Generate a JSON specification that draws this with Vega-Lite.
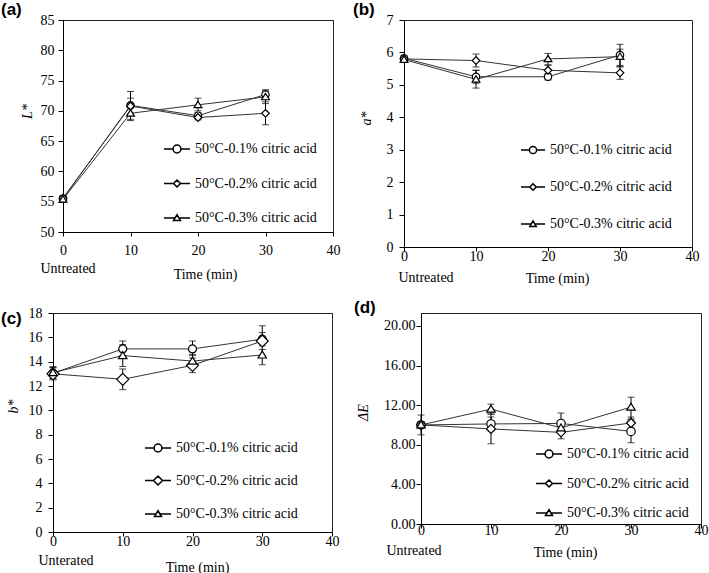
{
  "$schema": "https://vega.github.io/schema/vega-lite/v6.json",
  "background": "white",
  "padding": 0,
  "datasets": {
    "pts": [
      {"p": "a", "s": "50°C-0.1% citric acid", "t": 0, "v": 55.5, "lo": 55.0, "hi": 56.0},
      {"p": "a", "s": "50°C-0.1% citric acid", "t": 10, "v": 70.9, "lo": 68.6, "hi": 73.2},
      {"p": "a", "s": "50°C-0.1% citric acid", "t": 20, "v": 69.2, "lo": 68.7, "hi": 69.7},
      {"p": "a", "s": "50°C-0.1% citric acid", "t": 30, "v": 72.7, "lo": 71.9, "hi": 73.5},
      {"p": "a", "s": "50°C-0.2% citric acid", "t": 0, "v": 55.6, "lo": 55.2, "hi": 56.0},
      {"p": "a", "s": "50°C-0.2% citric acid", "t": 10, "v": 70.8, "lo": 69.5, "hi": 72.1},
      {"p": "a", "s": "50°C-0.2% citric acid", "t": 20, "v": 68.9, "lo": 68.5, "hi": 69.4},
      {"p": "a", "s": "50°C-0.2% citric acid", "t": 30, "v": 69.6, "lo": 67.7, "hi": 71.5},
      {"p": "a", "s": "50°C-0.3% citric acid", "t": 0, "v": 55.4, "lo": 55.0, "hi": 55.8},
      {"p": "a", "s": "50°C-0.3% citric acid", "t": 10, "v": 69.6, "lo": 68.4, "hi": 70.6},
      {"p": "a", "s": "50°C-0.3% citric acid", "t": 20, "v": 71.0, "lo": 70.0, "hi": 72.1},
      {"p": "a", "s": "50°C-0.3% citric acid", "t": 30, "v": 72.3, "lo": 71.2, "hi": 73.3},

      {"p": "b", "s": "50°C-0.1% citric acid", "t": 0, "v": 5.82, "lo": 5.75, "hi": 5.9},
      {"p": "b", "s": "50°C-0.1% citric acid", "t": 10, "v": 5.25, "lo": 5.05, "hi": 5.45},
      {"p": "b", "s": "50°C-0.1% citric acid", "t": 20, "v": 5.25, "lo": 5.15, "hi": 5.35},
      {"p": "b", "s": "50°C-0.1% citric acid", "t": 30, "v": 5.92, "lo": 5.6, "hi": 6.25},
      {"p": "b", "s": "50°C-0.2% citric acid", "t": 0, "v": 5.8, "lo": 5.73, "hi": 5.87},
      {"p": "b", "s": "50°C-0.2% citric acid", "t": 10, "v": 5.75, "lo": 5.55, "hi": 5.95},
      {"p": "b", "s": "50°C-0.2% citric acid", "t": 20, "v": 5.45, "lo": 5.3, "hi": 5.6},
      {"p": "b", "s": "50°C-0.2% citric acid", "t": 30, "v": 5.37, "lo": 5.17, "hi": 5.57},
      {"p": "b", "s": "50°C-0.3% citric acid", "t": 0, "v": 5.78, "lo": 5.7, "hi": 5.85},
      {"p": "b", "s": "50°C-0.3% citric acid", "t": 10, "v": 5.17, "lo": 4.9, "hi": 5.45},
      {"p": "b", "s": "50°C-0.3% citric acid", "t": 20, "v": 5.8, "lo": 5.62, "hi": 5.97},
      {"p": "b", "s": "50°C-0.3% citric acid", "t": 30, "v": 5.87, "lo": 5.55, "hi": 6.1},

      {"p": "c", "s": "50°C-0.1% citric acid", "t": 0, "v": 13.05, "lo": 12.6, "hi": 13.5},
      {"p": "c", "s": "50°C-0.1% citric acid", "t": 10, "v": 15.05, "lo": 14.5, "hi": 15.7},
      {"p": "c", "s": "50°C-0.1% citric acid", "t": 20, "v": 15.05, "lo": 14.5, "hi": 15.7},
      {"p": "c", "s": "50°C-0.1% citric acid", "t": 30, "v": 15.85, "lo": 15.3, "hi": 16.95},
      {"p": "c", "s": "50°C-0.2% citric acid", "t": 0, "v": 13.0, "lo": 12.5, "hi": 13.5},
      {"p": "c", "s": "50°C-0.2% citric acid", "t": 10, "v": 12.55, "lo": 11.7, "hi": 13.4},
      {"p": "c", "s": "50°C-0.2% citric acid", "t": 20, "v": 13.7, "lo": 13.1, "hi": 14.3},
      {"p": "c", "s": "50°C-0.2% citric acid", "t": 30, "v": 15.7, "lo": 14.5, "hi": 16.4},
      {"p": "c", "s": "50°C-0.3% citric acid", "t": 0, "v": 13.1, "lo": 12.6, "hi": 13.6},
      {"p": "c", "s": "50°C-0.3% citric acid", "t": 10, "v": 14.5, "lo": 13.6, "hi": 15.4},
      {"p": "c", "s": "50°C-0.3% citric acid", "t": 20, "v": 14.05, "lo": 13.5, "hi": 14.6},
      {"p": "c", "s": "50°C-0.3% citric acid", "t": 30, "v": 14.55, "lo": 13.75, "hi": 15.0},

      {"p": "d", "s": "50°C-0.1% citric acid", "t": 0, "v": 10.0, "lo": 9.0, "hi": 11.0},
      {"p": "d", "s": "50°C-0.1% citric acid", "t": 10, "v": 10.1, "lo": 9.4, "hi": 10.8},
      {"p": "d", "s": "50°C-0.1% citric acid", "t": 20, "v": 10.15, "lo": 9.3, "hi": 11.2},
      {"p": "d", "s": "50°C-0.1% citric acid", "t": 30, "v": 9.35, "lo": 8.2, "hi": 10.5},
      {"p": "d", "s": "50°C-0.2% citric acid", "t": 0, "v": 10.0, "lo": 9.7, "hi": 10.3},
      {"p": "d", "s": "50°C-0.2% citric acid", "t": 10, "v": 9.6, "lo": 8.1, "hi": 11.1},
      {"p": "d", "s": "50°C-0.2% citric acid", "t": 20, "v": 9.25, "lo": 8.6, "hi": 9.9},
      {"p": "d", "s": "50°C-0.2% citric acid", "t": 30, "v": 10.2, "lo": 9.4, "hi": 10.8},
      {"p": "d", "s": "50°C-0.3% citric acid", "t": 0, "v": 10.0, "lo": 9.7, "hi": 10.3},
      {"p": "d", "s": "50°C-0.3% citric acid", "t": 10, "v": 11.6, "lo": 11.1, "hi": 12.1},
      {"p": "d", "s": "50°C-0.3% citric acid", "t": 20, "v": 9.7, "lo": 9.2, "hi": 10.2},
      {"p": "d", "s": "50°C-0.3% citric acid", "t": 30, "v": 11.8, "lo": 10.6, "hi": 12.8}
    ]
  },
  "spacing": 12,
  "resolve": {"scale": {"shape": "independent"}, "legend": {"shape": "independent"}},
  "vconcat": [
    {
      "spacing": 0,
      "bounds": "flush",
      "align": "none",
      "resolve": {"scale": {"shape": "independent"}, "legend": {"shape": "independent"}},
      "hconcat": [
        {"width": 10, "height": 1, "data": {"values": []}, "mark": {"type": "point", "opacity": 0}, "view": {"stroke": null}},
        {
          "spacing": 71,
          "bounds": "flush",
          "align": "none",
          "resolve": {"scale": {"shape": "independent"}, "legend": {"shape": "independent"}},
          "hconcat": [
            {
              "width": 270, "height": 212,
              "title": {"text": "(a)", "anchor": "start", "frame": "group", "dx": -62, "dy": 6, "font": "Liberation Sans", "fontSize": 17, "fontWeight": "bold", "color": "black", "offset": 0},
              "data": {"name": "pts"},
              "transform": [{"filter": "datum.p === 'a'"}],
              "encoding": {
                "x": {"field": "t", "type": "quantitative", "scale": {"domain": [0, 40], "nice": false},
                      "axis": {"values": [0, 10, 20, 30, 40], "title": "Time (min)", "titleX": 142, "titleY": 42, "labelBaseline": "middle", "labelPadding": 14}},
                "y": {"field": "v", "type": "quantitative", "scale": {"domain": [50, 85], "nice": false, "zero": false},
                      "axis": {"values": [50, 55, 60, 65, 70, 75, 80, 85], "title": "L*", "titleX": -36, "titleY": 91, "titleFontStyle": "italic", "labelPadding": 4}}
              },
              "resolve": {"scale": {"shape": "independent"}, "legend": {"shape": "independent"}},
              "layer": [
                {"mark": {"type": "line", "color": "#333", "strokeWidth": 1}, "encoding": {"detail": {"field": "s"}}},
                {"mark": {"type": "errorbar", "ticks": {"size": 7}, "color": "black", "thickness": 1},
                 "encoding": {"y": {"field": "lo", "type": "quantitative"}, "y2": {"field": "hi"}}},
                {"mark": {"type": "point", "filled": true, "fill": "white", "stroke": "black", "strokeWidth": 1.2, "size": 100, "opacity": 1},
                 "encoding": {"shape": {"field": "s", "type": "nominal", "legend": null,
                   "scale": {"domain": ["50°C-0.1% citric acid", "50°C-0.2% citric acid", "50°C-0.3% citric acid"],
                             "range": ["M0.74,0A0.74,0.74,0,1,1,-0.74,0A0.74,0.74,0,1,1,0.74,0Z", "M0,-0.76L0.76,0L0,0.76L-0.76,0Z", "M0,-0.72L0.78,0.56L-0.78,0.56Z"]}}}},
                {"mark": {"type": "point", "filled": true, "fill": "white", "stroke": "black", "strokeWidth": 1, "opacity": 0},
                 "encoding": {"shape": {"field": "s", "type": "nominal",
                   "scale": {"domain": ["50°C-0.1% citric acid", "50°C-0.2% citric acid", "50°C-0.3% citric acid"],
                             "range": ["M-1,0H-0.3M0.3,0H1M0.3,0A0.3,0.3,0,1,1,-0.3,0A0.3,0.3,0,1,1,0.3,0Z", "M-1,0H-0.27M0.27,0H1M0,-0.27L0.27,0L0,0.27L-0.27,0Z", "M-1,0H-0.15M0.15,0H1M0,-0.25L0.27,0.2L-0.27,0.2Z"]},
                   "legend": {"orient": "none", "legendX": 100, "legendY": 115, "title": null, "padding": 0,
                              "labelFont": "Liberation Serif", "labelFontSize": 14, "labelColor": "black", "labelOffset": 4, "rowPadding": 13.5,
                              "symbolSize": 676}}}},
                {"transform": [{"filter": "datum.t === 0 && datum.s === '50°C-0.1% citric acid'"}],
                 "mark": {"type": "text", "text": "Untreated", "align": "center", "baseline": "middle", "dx": 5, "dy": 37, "font": "Liberation Serif", "fontSize": 14, "color": "black"},
                 "encoding": {"y": {"datum": 50, "type": "quantitative"}}}
              ]
            },
            {
              "width": 288, "height": 227,
              "title": {"text": "(b)", "anchor": "start", "frame": "group", "dx": -51, "dy": 6, "font": "Liberation Sans", "fontSize": 17, "fontWeight": "bold", "color": "black", "offset": 0},
              "data": {"name": "pts"},
              "transform": [{"filter": "datum.p === 'b'"}],
              "encoding": {
                "x": {"field": "t", "type": "quantitative", "scale": {"domain": [0, 40], "nice": false},
                      "axis": {"values": [0, 10, 20, 30, 40], "title": "Time (min)", "titleX": 153, "titleY": 31, "labelBaseline": "middle", "labelPadding": 5}},
                "y": {"field": "v", "type": "quantitative", "scale": {"domain": [0, 7], "nice": false},
                      "axis": {"values": [0, 1, 2, 3, 4, 5, 6, 7], "title": "a*", "titleX": -38, "titleY": 98, "titleFontStyle": "italic", "labelPadding": 6}}
              },
              "resolve": {"scale": {"shape": "independent"}, "legend": {"shape": "independent"}},
              "layer": [
                {"mark": {"type": "line", "color": "#333", "strokeWidth": 1}, "encoding": {"detail": {"field": "s"}}},
                {"mark": {"type": "errorbar", "ticks": {"size": 7}, "color": "black", "thickness": 1},
                 "encoding": {"y": {"field": "lo", "type": "quantitative"}, "y2": {"field": "hi"}}},
                {"mark": {"type": "point", "filled": true, "fill": "white", "stroke": "black", "strokeWidth": 1.2, "size": 100, "opacity": 1},
                 "encoding": {"shape": {"field": "s", "type": "nominal", "legend": null,
                   "scale": {"domain": ["50°C-0.1% citric acid", "50°C-0.2% citric acid", "50°C-0.3% citric acid"],
                             "range": ["M0.74,0A0.74,0.74,0,1,1,-0.74,0A0.74,0.74,0,1,1,0.74,0Z", "M0,-0.76L0.76,0L0,0.76L-0.76,0Z", "M0,-0.72L0.78,0.56L-0.78,0.56Z"]}}}},
                {"mark": {"type": "point", "filled": true, "fill": "white", "stroke": "black", "strokeWidth": 1, "opacity": 0},
                 "encoding": {"shape": {"field": "s", "type": "nominal",
                   "scale": {"domain": ["50°C-0.1% citric acid", "50°C-0.2% citric acid", "50°C-0.3% citric acid"],
                             "range": ["M-1,0H-0.3M0.3,0H1M0.3,0A0.3,0.3,0,1,1,-0.3,0A0.3,0.3,0,1,1,0.3,0Z", "M-1,0H-0.27M0.27,0H1M0,-0.27L0.27,0L0,0.27L-0.27,0Z", "M-1,0H-0.15M0.15,0H1M0,-0.25L0.27,0.2L-0.27,0.2Z"]},
                   "legend": {"orient": "none", "legendX": 116, "legendY": 117, "title": null, "padding": 0,
                              "labelFont": "Liberation Serif", "labelFontSize": 14, "labelColor": "black", "labelOffset": 4, "rowPadding": 17,
                              "symbolSize": 576}}}},
                {"transform": [{"filter": "datum.t === 0 && datum.s === '50°C-0.1% citric acid'"}],
                 "mark": {"type": "text", "text": "Untreated", "align": "center", "baseline": "middle", "dx": 22, "dy": 31, "font": "Liberation Serif", "fontSize": 14, "color": "black"},
                 "encoding": {"y": {"datum": 0, "type": "quantitative"}}}
              ]
            }
          ]
        }
      ]
    },
    {
      "spacing": 89,
      "bounds": "flush",
      "align": "none",
      "resolve": {"scale": {"shape": "independent"}, "legend": {"shape": "independent"}},
      "hconcat": [
        {
          "width": 279, "height": 219,
          "title": {"text": "(c)", "anchor": "start", "frame": "group", "dx": -52, "dy": 22, "font": "Liberation Sans", "fontSize": 17, "fontWeight": "bold", "color": "black", "offset": 0},
          "data": {"name": "pts"},
          "transform": [{"filter": "datum.p === 'c'"}],
          "encoding": {
            "x": {"field": "t", "type": "quantitative", "scale": {"domain": [0, 40], "nice": false},
                  "axis": {"values": [0, 10, 20, 30, 40], "title": "Time (min)", "titleX": 144, "titleY": 35, "labelBaseline": "middle", "labelPadding": 5}},
            "y": {"field": "v", "type": "quantitative", "scale": {"domain": [0, 18], "nice": false},
                  "axis": {"values": [0, 2, 4, 6, 8, 10, 12, 14, 16, 18], "title": "b*", "titleX": -40, "titleY": 93, "titleFontStyle": "italic", "labelPadding": 6}}
          },
          "resolve": {"scale": {"shape": "independent"}, "legend": {"shape": "independent"}},
          "layer": [
            {"mark": {"type": "line", "color": "#333", "strokeWidth": 1}, "encoding": {"detail": {"field": "s"}}},
            {"mark": {"type": "errorbar", "ticks": {"size": 7}, "color": "black", "thickness": 1},
             "encoding": {"y": {"field": "lo", "type": "quantitative"}, "y2": {"field": "hi"}}},
            {"mark": {"type": "point", "filled": true, "fill": "white", "stroke": "black", "strokeWidth": 1.2, "size": 100, "opacity": 1},
             "encoding": {"shape": {"field": "s", "type": "nominal", "legend": null,
               "scale": {"domain": ["50°C-0.1% citric acid", "50°C-0.2% citric acid", "50°C-0.3% citric acid"],
                         "range": ["M0.8,0A0.8,0.8,0,1,1,-0.8,0A0.8,0.8,0,1,1,0.8,0Z", "M0,-1.2L1.2,0L0,1.2L-1.2,0Z", "M0,-0.78L0.84,0.6L-0.84,0.6Z"]}}}},
            {"mark": {"type": "point", "filled": true, "fill": "white", "stroke": "black", "strokeWidth": 1, "opacity": 0},
             "encoding": {"shape": {"field": "s", "type": "nominal",
               "scale": {"domain": ["50°C-0.1% citric acid", "50°C-0.2% citric acid", "50°C-0.3% citric acid"],
                         "range": ["M-1,0H-0.3M0.3,0H1M0.3,0A0.3,0.3,0,1,1,-0.3,0A0.3,0.3,0,1,1,0.3,0Z", "M-1,0H-0.35M0.35,0H1M0,-0.35L0.35,0L0,0.35L-0.35,0Z", "M-1,0H-0.15M0.15,0H1M0,-0.25L0.27,0.2L-0.27,0.2Z"]},
               "legend": {"orient": "none", "legendX": 91, "legendY": 121, "title": null, "padding": 0,
                          "labelFont": "Liberation Serif", "labelFontSize": 14, "labelColor": "black", "labelOffset": 4, "rowPadding": 11.5,
                          "symbolSize": 676}}}},
            {"transform": [{"filter": "datum.t === 0 && datum.s === '50°C-0.1% citric acid'"}],
             "mark": {"type": "text", "text": "Unterated", "align": "center", "baseline": "middle", "dx": 13, "dy": 29, "font": "Liberation Serif", "fontSize": 14, "color": "black"},
             "encoding": {"y": {"datum": 0, "type": "quantitative"}}}
          ]
        },
        {
          "width": 280, "height": 211,
          "title": {"text": "(d)", "anchor": "start", "frame": "group", "dx": -67, "dy": 4, "font": "Liberation Sans", "fontSize": 17, "fontWeight": "bold", "color": "black", "offset": 0},
          "data": {"name": "pts"},
          "transform": [{"filter": "datum.p === 'd'"}],
          "encoding": {
            "x": {"field": "t", "type": "quantitative", "scale": {"domain": [0, 40], "nice": false},
                  "axis": {"values": [0, 10, 20, 30, 40], "title": "Time (min)", "titleX": 144, "titleY": 28, "labelBaseline": "middle", "labelPadding": 2}},
            "y": {"field": "v", "type": "quantitative", "scale": {"domain": [0, 21.3], "nice": false},
                  "axis": {"values": [0, 4, 8, 12, 16, 20], "format": ".2f", "title": "ΔE", "titleX": -58, "titleY": 99, "titleFontStyle": "italic", "labelPadding": 1}}
          },
          "resolve": {"scale": {"shape": "independent"}, "legend": {"shape": "independent"}},
          "layer": [
            {"mark": {"type": "line", "color": "#333", "strokeWidth": 1}, "encoding": {"detail": {"field": "s"}}},
            {"mark": {"type": "errorbar", "ticks": {"size": 7}, "color": "black", "thickness": 1},
             "encoding": {"y": {"field": "lo", "type": "quantitative"}, "y2": {"field": "hi"}}},
            {"mark": {"type": "point", "filled": true, "fill": "white", "stroke": "black", "strokeWidth": 1.2, "size": 100, "opacity": 1},
             "encoding": {"shape": {"field": "s", "type": "nominal", "legend": null,
               "scale": {"domain": ["50°C-0.1% citric acid", "50°C-0.2% citric acid", "50°C-0.3% citric acid"],
                         "range": ["M0.84,0A0.84,0.84,0,1,1,-0.84,0A0.84,0.84,0,1,1,0.84,0Z", "M0,-0.9L0.9,0L0,0.9L-0.9,0Z", "M0,-0.78L0.84,0.6L-0.84,0.6Z"]}}}},
            {"mark": {"type": "point", "filled": true, "fill": "white", "stroke": "black", "strokeWidth": 1, "opacity": 0},
             "encoding": {"shape": {"field": "s", "type": "nominal",
               "scale": {"domain": ["50°C-0.1% citric acid", "50°C-0.2% citric acid", "50°C-0.3% citric acid"],
                         "range": ["M-1,0H-0.3M0.3,0H1M0.3,0A0.3,0.3,0,1,1,-0.3,0A0.3,0.3,0,1,1,0.3,0Z", "M-1,0H-0.27M0.27,0H1M0,-0.27L0.27,0L0,0.27L-0.27,0Z", "M-1,0H-0.15M0.15,0H1M0,-0.25L0.27,0.2L-0.27,0.2Z"]},
               "legend": {"orient": "none", "legendX": 114, "legendY": 127, "title": null, "padding": 0,
                          "labelFont": "Liberation Serif", "labelFontSize": 14, "labelColor": "black", "labelOffset": 4, "rowPadding": 8.5,
                          "symbolSize": 676}}}},
            {"transform": [{"filter": "datum.t === 0 && datum.s === '50°C-0.1% citric acid'"}],
             "mark": {"type": "text", "text": "Untreated", "align": "center", "baseline": "middle", "dx": -7, "dy": 27, "font": "Liberation Serif", "fontSize": 14, "color": "black"},
             "encoding": {"y": {"datum": 0, "type": "quantitative"}}}
          ]
        }
      ]
    }
  ],
  "config": {
    "view": {"stroke": "#222", "strokeWidth": 1},
    "font": "Liberation Serif",
    "axis": {"domainColor": "black", "tickColor": "black", "labelColor": "black", "titleColor": "black",
             "labelFont": "Liberation Serif", "titleFont": "Liberation Serif", "labelFontSize": 14, "titleFontSize": 14,
             "titleFontWeight": "normal", "grid": false, "tickSize": 4, "labelFlush": false, "labelOverlap": false,
             "titleBaseline": "middle", "titleAlign": "center"},
    "axisY": {"tickSize": 5, "titleAngle": -90}
  }
}
